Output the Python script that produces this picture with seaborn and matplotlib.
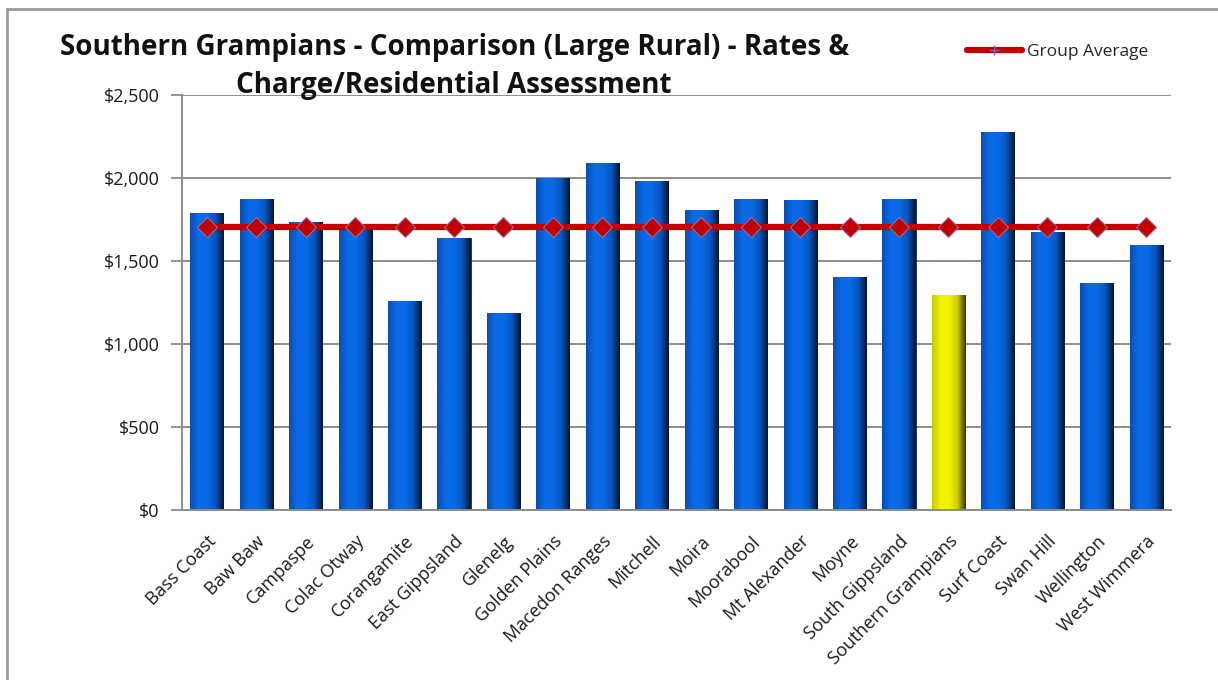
import numpy as np
import pandas as pd
import matplotlib
matplotlib.use("Agg")
import matplotlib.pyplot as plt
import matplotlib.transforms as mtransforms
import seaborn as sns
from matplotlib.lines import Line2D
from matplotlib.colors import LinearSegmentedColormap

councils = ["Bass Coast", "Baw Baw", "Campaspe", "Colac Otway", "Corangamite",
            "East Gippsland", "Glenelg", "Golden Plains", "Macedon Ranges", "Mitchell",
            "Moira", "Moorabool", "Mt Alexander", "Moyne", "South Gippsland",
            "Southern Grampians", "Surf Coast", "Swan Hill", "Wellington", "West Wimmera"]
rates = [1792, 1876, 1732, 1708, 1259,
         1639, 1189, 1998, 2092, 1984,
         1806, 1876, 1866, 1401, 1876,
         1295, 2279, 1674, 1367, 1594]
group_average = [1705] * len(councils)
highlight = "Southern Grampians"
y_ticks = [0, 500, 1000, 1500, 2000, 2500]
y_tick_labels = ["$0", "$500", "$1,000", "$1,500", "$2,000", "$2,500"]
title_line1 = "Southern Grampians - Comparison (Large Rural) - Rates &"
title_line2 = "Charge/Residential Assessment"
legend_label = "Group Average"

sns.set_theme(style="white")
plt.rcParams['font.family'] = ['Open Sans', 'DejaVu Sans']

df = pd.DataFrame({"Council": councils, "Rates": rates,
                   "Group": ["hl" if c == highlight else "other" for c in councils]})

fig = plt.figure(figsize=(12.18, 6.8), dpi=100)
ax = fig.add_axes([182/1218, 1-510/680, (1171-182)/1218, (510-95)/680])

sns.barplot(data=df, x="Council", y="Rates", hue="Group", order=councils,
            palette={"other": "#0A63DA", "hl": "#E8E800"}, dodge=False,
            width=0.67, legend=False, ax=ax, edgecolor="#0B2550", linewidth=0.6)

# horizontal gradient shading on each bar
blue_cmap = LinearSegmentedColormap.from_list("b", ["#0A4FB0", "#0A6AE6", "#0A6AE6", "#0955C0", "#041633"])
yel_cmap = LinearSegmentedColormap.from_list("y", ["#C8C800", "#F2F200", "#F2F200", "#CFCF00", "#3A3A00"])
grad = np.linspace(0, 1, 64).reshape(1, -1)
for patch in list(ax.patches):
    w, h = patch.get_width(), patch.get_height()
    if not np.isfinite(h) or h <= 0:
        continue
    x0, y0 = patch.get_x(), patch.get_y()
    idx = int(round(x0 + w / 2))
    cm = yel_cmap if councils[idx] == highlight else blue_cmap
    im = ax.imshow(grad, cmap=cm, aspect="auto", extent=(x0, x0 + w, y0, y0 + h),
                   zorder=patch.get_zorder() + 0.1)
    im.set_clip_path(patch)

avg_df = pd.DataFrame({"Council": councils, "Avg": group_average})
sns.lineplot(data=avg_df, x="Council", y="Avg", ax=ax, color="#C00000", linewidth=4.5,
             marker="D", markersize=10, markerfacecolor="#C00000",
             markeredgecolor="#9A6AA0", markeredgewidth=0.8, zorder=5, sort=False)

ax.set_xlim(-0.5, len(councils) - 0.5)
ax.set_ylim(0, 2500)
ax.set_yticks(y_ticks)
ax.set_yticklabels(y_tick_labels, fontsize=13, color="#1a1a1a")
ax.set_xlabel("")
ax.set_ylabel("")
ax.set_xticks(range(len(councils)))
ax.set_xticklabels(councils, rotation=45, ha="right", rotation_mode="anchor",
                   fontsize=13, color="#1a1a1a")
offset = mtransforms.ScaledTranslation(6/100, 0, fig.dpi_scale_trans)
for lbl in ax.get_xticklabels():
    lbl.set_transform(lbl.get_transform() + offset)
ax.tick_params(axis="x", which="major", length=0, pad=16)
ax.set_xticks(np.arange(-0.5, len(councils), 1.0), minor=True)
ax.tick_params(axis="x", which="minor", length=6, color="#8c8c8c", width=1.3, direction="out")
ax.tick_params(axis="y", length=8, color="#8c8c8c", width=1.3, direction="out", pad=8, left=True)
ax.yaxis.grid(True, color="#8c8c8c", linewidth=1.4)
ax.set_axisbelow(True)
for s in ["top", "right"]:
    ax.spines[s].set_visible(False)
for s in ["left", "bottom"]:
    ax.spines[s].set_color("#8c8c8c")
    ax.spines[s].set_linewidth(1.4)

fig.text(455/1218, 1 - 48/680, title_line1, ha="center", va="center",
         fontsize=20, fontweight="bold", color="#111111")
fig.text(454/1218, 1 - 85/680, title_line2, ha="center", va="center",
         fontsize=20, fontweight="bold", color="#111111")

handle = Line2D([], [], color="#C00000", linewidth=4.5, marker="+", markersize=7,
                markeredgecolor="#8A5FB0", markeredgewidth=1)
fig.legend([handle], [legend_label], loc="center left",
           bbox_to_anchor=(958/1218, 1 - 52/680), frameon=False, fontsize=12.5,
           handlelength=3.2, handletextpad=0.25, borderpad=0)

# outer chart border
fig.add_artist(Line2D([7/1218, 7/1218], [0, 1 - 9/680], transform=fig.transFigure,
                      color="#9a9a9a", linewidth=2))
fig.add_artist(Line2D([7/1218, 1], [1 - 9/680, 1 - 9/680], transform=fig.transFigure,
                      color="#9a9a9a", linewidth=2))

fig.savefig("out.png", dpi=100)
